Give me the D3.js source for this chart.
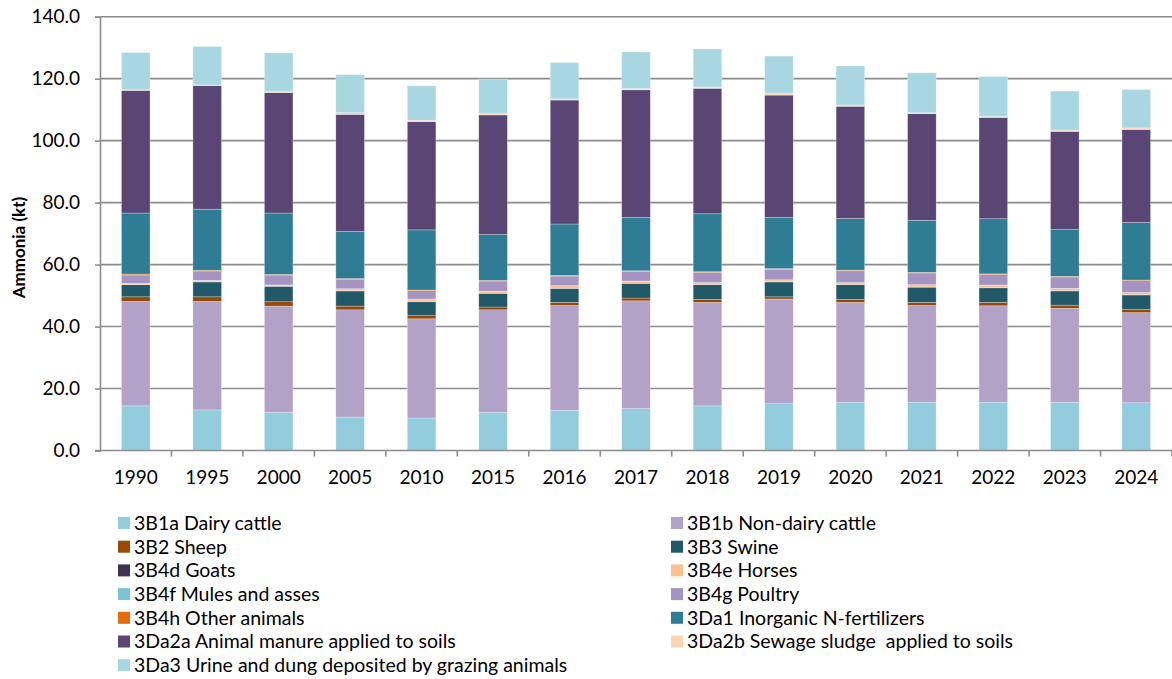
<!DOCTYPE html>
<html>
<head>
<meta charset="utf-8">
<script src="https://cdn.jsdelivr.net/npm/d3@7"></script>
<style>
  body { margin: 0; background: #fff; }
  text { font-family: Lato, "Open Sans", sans-serif; fill: #000; }
  .tick-label { font-size: 19px; }
  .legend-text { font-size: 19.5px; }
  .axis-title { font-size: 17px; font-weight: bold; }
</style>
</head>
<body>
<div id="chart"></div>
<script>

var years = ['1990', '1995', '2000', '2005', '2010', '2015', '2016', '2017', '2018', '2019', '2020', '2021', '2022', '2023', '2024'];

var yTicks = [0, 20, 40, 60, 80, 100, 120, 140];

// emissions per source category (kt NH3)
var dairyCattle    = [14.4, 13.1, 12.3, 10.8, 10.5, 12.3, 13.0, 13.5, 14.4, 15.1, 15.6, 15.6, 15.6, 15.6, 15.4];
var nonDairyCattle = [33.7, 35.0, 34.3, 34.6, 32.0, 33.1, 33.8, 34.8, 33.4, 33.8, 32.2, 31.2, 31.1, 30.3, 29.1];
var sheep          = [1.5, 1.5, 1.4, 1.2, 1.0, 0.9, 1.0, 0.9, 1.0, 0.7, 1.0, 1.0, 1.1, 1.0, 1.0];
var swine          = [3.9, 4.8, 5.0, 4.9, 4.5, 4.4, 4.5, 4.7, 4.7, 4.8, 4.7, 4.9, 4.7, 4.6, 4.7];
var goats          = [0.05, 0.05, 0.05, 0.06, 0.07, 0.07, 0.07, 0.07, 0.07, 0.07, 0.07, 0.07, 0.07, 0.07, 0.07];
var horses         = [0.35, 0.45, 0.35, 0.6, 0.8, 0.6, 0.8, 0.7, 0.6, 0.6, 0.6, 0.7, 0.8, 0.7, 0.7];
var mules          = [0.03, 0.03, 0.03, 0.03, 0.03, 0.03, 0.03, 0.03, 0.03, 0.03, 0.03, 0.03, 0.03, 0.03, 0.03];
var poultry        = [2.7, 3.0, 3.2, 3.1, 2.7, 3.3, 3.1, 3.1, 3.3, 3.4, 3.8, 3.8, 3.4, 3.7, 3.8];
var otherAnimals   = [0.3, 0.25, 0.2, 0.2, 0.2, 0.2, 0.2, 0.2, 0.2, 0.2, 0.2, 0.2, 0.2, 0.2, 0.2];
var nFertilizers   = [19.7, 19.7, 19.8, 15.2, 19.4, 14.8, 16.6, 17.2, 18.7, 16.5, 16.7, 16.8, 17.8, 15.1, 18.6];
var animalManure   = [39.6, 39.9, 38.9, 37.8, 34.9, 38.6, 40.0, 41.2, 40.5, 39.5, 36.2, 34.4, 32.7, 31.7, 30.0];
var sewageSludge   = [0.2, 0.2, 0.3, 0.5, 0.5, 0.4, 0.4, 0.4, 0.4, 0.5, 0.4, 0.3, 0.3, 0.4, 0.5];
var urineDung      = [12.0, 12.4, 12.5, 12.3, 11.1, 11.2, 11.7, 11.8, 12.3, 12.1, 12.6, 12.9, 12.9, 12.6, 12.4];

var seriesNames = [
  '3B1a Dairy cattle', '3B1b Non-dairy cattle', '3B2 Sheep', '3B3 Swine', '3B4d Goats',
  '3B4e Horses', '3B4f Mules and asses', '3B4g Poultry', '3B4h Other animals',
  '3Da1 Inorganic N-fertilizers', '3Da2a Animal manure applied to soils',
  '3Da2b Sewage sludge  applied to soils', '3Da3 Urine and dung deposited by grazing animals'
];
var seriesValues = [dairyCattle, nonDairyCattle, sheep, swine, goats, horses, mules, poultry,
  otherAnimals, nFertilizers, animalManure, sewageSludge, urineDung];
var seriesColors = ['#93CDDD', '#B3A2C7', '#984807', '#215968', '#403151', '#FAC090', '#7CC3D4',
  '#A594C1', '#E46C0A', '#2F7D95', '#594675', '#FCD5B5', '#A8D7E2'];

var width = 1172, height = 679;
var plot = {left: 100, right: 1172, top: 16.7, bottom: 450.5};

var table = years.map(function(y, i) {
  var row = {year: y};
  seriesNames.forEach(function(name, k) { row[name] = seriesValues[k][i]; });
  return row;
});

var stacked = d3.stack().keys(seriesNames)(table);

var svg = d3.select('#chart').append('svg')
  .attr('width', width)
  .attr('height', height);

var xScale = d3.scaleBand()
  .domain(years)
  .range([plot.left, plot.right])
  .paddingInner(0.6)
  .paddingOuter(0.3);

var yScale = d3.scaleLinear()
  .domain([0, 140])
  .range([plot.bottom, plot.top]);

// gridlines
svg.append('g')
  .selectAll('line')
  .data(yTicks.slice(1))
  .enter().append('line')
    .attr('x1', plot.left)
    .attr('x2', plot.right)
    .attr('y1', function(d) { return yScale(d); })
    .attr('y2', function(d) { return yScale(d); })
    .style('stroke', '#8c8c8c')
    .style('stroke-width', 1.6);

var yAxis = d3.axisLeft(yScale)
  .tickValues(yTicks)
  .tickSize(5)
  .tickPadding(15)
  .tickFormat(d3.format('.1f'));

var yAxisG = svg.append('g')
  .attr('transform', 'translate(' + plot.left + ',0)')
  .call(yAxis);
yAxisG.select('.domain').style('stroke', '#8c8c8c').style('stroke-width', 1.6);
yAxisG.selectAll('.tick line').style('stroke', '#8c8c8c').style('stroke-width', 1.6);
yAxisG.selectAll('.tick text').attr('class', 'tick-label').style('font-family', 'Lato, sans-serif').style('font-size', '19px').style('fill', '#000');

// bars
svg.append('g')
  .selectAll('g')
  .data(stacked)
  .enter().append('g')
    .style('fill', function(d, k) { return seriesColors[k]; })
  .selectAll('rect')
  .data(function(d) { return d; })
  .enter().append('rect')
    .attr('x', function(d) { return xScale(d.data.year); })
    .attr('width', xScale.bandwidth())
    .attr('y', function(d) { return yScale(d[1]); })
    .attr('height', function(d) { return yScale(d[0]) - yScale(d[1]); })
    .style('stroke', '#ffffff')
    .style('stroke-width', 0.6)
    .style('stroke-opacity', 0.45);

// x axis with ticks between categories
var step = xScale.step();
var xAxisG = svg.append('g');
xAxisG.append('line')
  .attr('x1', plot.left - 5)
  .attr('x2', plot.right)
  .attr('y1', plot.bottom)
  .attr('y2', plot.bottom)
  .style('stroke', '#8c8c8c')
  .style('stroke-width', 1.6);
xAxisG.selectAll('.xtick')
  .data(years)
  .enter().append('line')
    .attr('class', 'xtick')
    .attr('x1', function(d) { return xScale(d) - xScale.bandwidth() * 0.75 + step; })
    .attr('x2', function(d) { return xScale(d) - xScale.bandwidth() * 0.75 + step; })
    .attr('y1', plot.bottom)
    .attr('y2', plot.bottom + 6)
    .style('stroke', '#8c8c8c')
    .style('stroke-width', 1.6);
xAxisG.selectAll('.xlabel')
  .data(years)
  .enter().append('text')
    .attr('class', 'tick-label')
    .attr('x', function(d) { return xScale(d) + xScale.bandwidth() / 2; })
    .attr('y', 477)
    .attr('dy', '0.35em')
    .style('text-anchor', 'middle')
    .text(function(d) { return d; });

svg.append('text')
  .attr('class', 'axis-title')
  .attr('transform', 'translate(19,' + ((plot.top + plot.bottom) / 2 + 14) + ') rotate(-90)')
  .attr('dy', '0.35em')
  .style('text-anchor', 'middle')
  .text('Ammonia (kt)');

// legend, two columns, filled row by row
var legend = svg.append('g')
  .selectAll('g')
  .data(seriesNames)
  .enter().append('g')
    .attr('transform', function(d, k) {
      var col = k % 2, row = Math.floor(k / 2);
      return 'translate(' + (col ? 671 : 118) + ',' + (523 + row * 23.7) + ')';
    });

legend.append('rect')
  .attr('x', 0)
  .attr('y', -6)
  .attr('width', 12)
  .attr('height', 12)
  .style('fill', function(d, k) { return seriesColors[k]; });

legend.append('text')
  .attr('class', 'legend-text')
  .attr('x', 16)
  .attr('dy', '0.35em')
  .style('white-space', 'pre')
  .text(function(d) { return d; });

</script>
</body>
</html>
